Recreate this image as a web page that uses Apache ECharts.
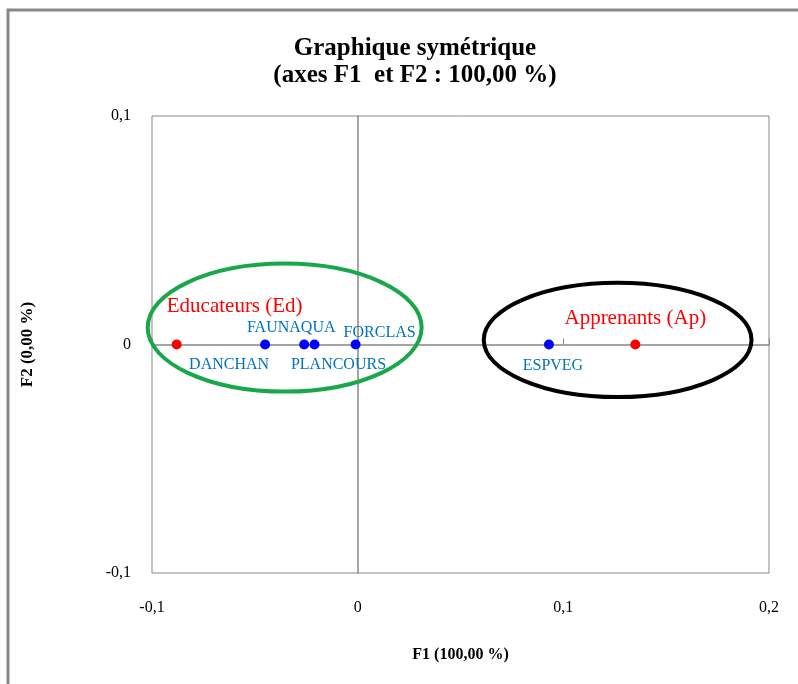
<!DOCTYPE html>
<html lang="fr">
<head>
    <meta charset="UTF-8">
    <title>Graphique symétrique</title>
    <script src="https://fastly.jsdelivr.net/npm/echarts@6/dist/echarts.min.js"></script>
    <style>
        html, body { margin: 0; padding: 0; background: #fff; }
    </style>
</head>
<body>
    <div id="dv" style="width:798px;height:684px;"></div>
</body>
<script>
   // lignes (points rouges)
   var rowNames = ['Educateurs (Ed)', 'Apprenants (Ap)']
   var rowF1 = [-0.088, 0.135]
   var rowF2 = [0, 0]
   // colonnes (points bleus)
   var colNames = ['DANCHAN', 'FAUNAQUA', 'PLANCOURS', 'FORCLAS', 'ESPVEG']
   var colF1 = [-0.045, -0.026, -0.021, -0.001, 0.093]
   var colF2 = [0, 0, 0, 0, 0]
   // ellipses de regroupement : centre x, centre y, rayon x, rayon y (unites des axes)
   var ellipseGreen = [-0.0355, 0.0074, 0.0666, 0.028]
   var ellipseBlack = [0.1264, 0.002, 0.0651, 0.025]
   var xTicks = [-0.1, 0, 0.1, 0.2]
   var yTicks = [-0.1, 0, 0.1]

   // decalage des etiquettes (px)
   var rowOffsets = [[58, -38], [0, -26]]
   var colOffsets = [[-36, 20], [-13, -17], [24, 20], [24, -12], [4, 21]]

   var serif = '"Liberation Serif", "DejaVu Serif", serif'
   var grey = '#878787'

   function fmt(v) {
       if (Math.abs(v) < 1e-9) return '0'
       return String(+v.toFixed(1)).replace('.', ',')
   }

   var myChart = echarts.init(document.getElementById('dv'))

   function pointData(names, xs, ys, offsets, color, size) {
       return names.map(function (n, i) {
           return {
               name: n,
               value: [xs[i], ys[i]],
               label: {
                   show: true,
                   formatter: n,
                   position: 'inside',
                   offset: offsets[i],
                   color: color,
                   fontFamily: serif,
                   fontSize: size
               }
           }
       })
   }

   function ellipseItem(color) {
       return function (params, api) {
           var c = api.coord([api.value(0), api.value(1)])
           var s = api.size([api.value(2), api.value(3)])
           return {
               type: 'ellipse',
               shape: { cx: c[0], cy: c[1], rx: s[0], ry: s[1] },
               style: { fill: 'none', stroke: color, lineWidth: 4 }
           }
       }
   }

   var option = {
        animation: false,
        title: {
            text: 'Graphique symétrique\n(axes F1  et F2 : 100,00 %)',
            left: 410,
            top: 30,
            textAlign: 'center',
            textStyle: {
                fontFamily: serif,
                fontWeight: 'bold',
                fontSize: 25,
                lineHeight: 27,
                color: '#000'
            }
        },
        graphic: [{
            type: 'rect',
            shape: { x: 8, y: 10, width: 820, height: 720 },
            style: { fill: 'none', stroke: grey, lineWidth: 3 },
            silent: true
        }],
        grid: {
            left: 152,
            right: 29,
            top: 116,
            bottom: 111,
            show: true,
            borderColor: grey,
            borderWidth: 1
        },
        xAxis: [{
            type: 'value',
            min: xTicks[0],
            max: xTicks[xTicks.length - 1],
            interval: 0.1,
            position: 'bottom',
            axisLine: { show: false, onZero: false },
            axisTick: { show: false },
            splitLine: { show: false },
            axisLabel: {
                formatter: fmt,
                margin: 27,
                fontFamily: serif,
                fontSize: 16,
                color: '#000'
            },
            name: 'F1 (100,00 %)',
            nameLocation: 'middle',
            nameGap: 74,
            nameTextStyle: { fontFamily: serif, fontWeight: 'bold', fontSize: 16, color: '#000' }
        }, {
            type: 'value',
            min: xTicks[0],
            max: xTicks[xTicks.length - 1],
            interval: 0.1,
            position: 'bottom',
            axisLine: { show: true, onZero: true, lineStyle: { color: grey, width: 1.5 } },
            axisTick: { show: true, inside: true, length: 6, lineStyle: { color: grey } },
            axisLabel: { show: false },
            splitLine: { show: false }
        }],
        yAxis: [{
            type: 'value',
            min: yTicks[0],
            max: yTicks[yTicks.length - 1],
            interval: 0.1,
            position: 'left',
            axisLine: { show: false, onZero: false },
            axisTick: { show: false },
            splitLine: { show: false },
            axisLabel: {
                formatter: fmt,
                margin: 21,
                fontFamily: serif,
                fontSize: 16,
                color: '#000'
            },
            name: 'F2 (0,00 %)',
            nameLocation: 'middle',
            nameRotate: 90,
            nameGap: 116,
            nameTextStyle: { fontFamily: serif, fontWeight: 'bold', fontSize: 17, color: '#000' }
        }, {
            type: 'value',
            min: yTicks[0],
            max: yTicks[yTicks.length - 1],
            interval: 0.1,
            position: 'left',
            axisLine: { show: true, onZero: true, lineStyle: { color: grey, width: 1.5 } },
            axisTick: { show: false },
            axisLabel: { show: false },
            splitLine: { show: false }
        }],
        series: [{
            type: 'custom',
            name: 'groupe Ed',
            silent: true,
            clip: false,
            z: 1,
            renderItem: ellipseItem('#1aa64b'),
            data: [ellipseGreen]
        }, {
            type: 'custom',
            name: 'groupe Ap',
            silent: true,
            clip: false,
            z: 1,
            renderItem: ellipseItem('#000000'),
            data: [ellipseBlack]
        }, {
            type: 'scatter',
            name: 'colonnes',
            symbolSize: 10,
            itemStyle: { color: '#0000ff', opacity: 1 },
            z: 3,
            data: pointData(colNames, colF1, colF2, colOffsets, '#0070c0', 16)
        }, {
            type: 'scatter',
            name: 'lignes',
            symbolSize: 10,
            itemStyle: { color: '#ff0000', opacity: 1 },
            z: 3,
            data: pointData(rowNames, rowF1, rowF2, rowOffsets, '#ff0000', 21)
        }]
   }
   myChart.setOption(option)
</script>
</html>
